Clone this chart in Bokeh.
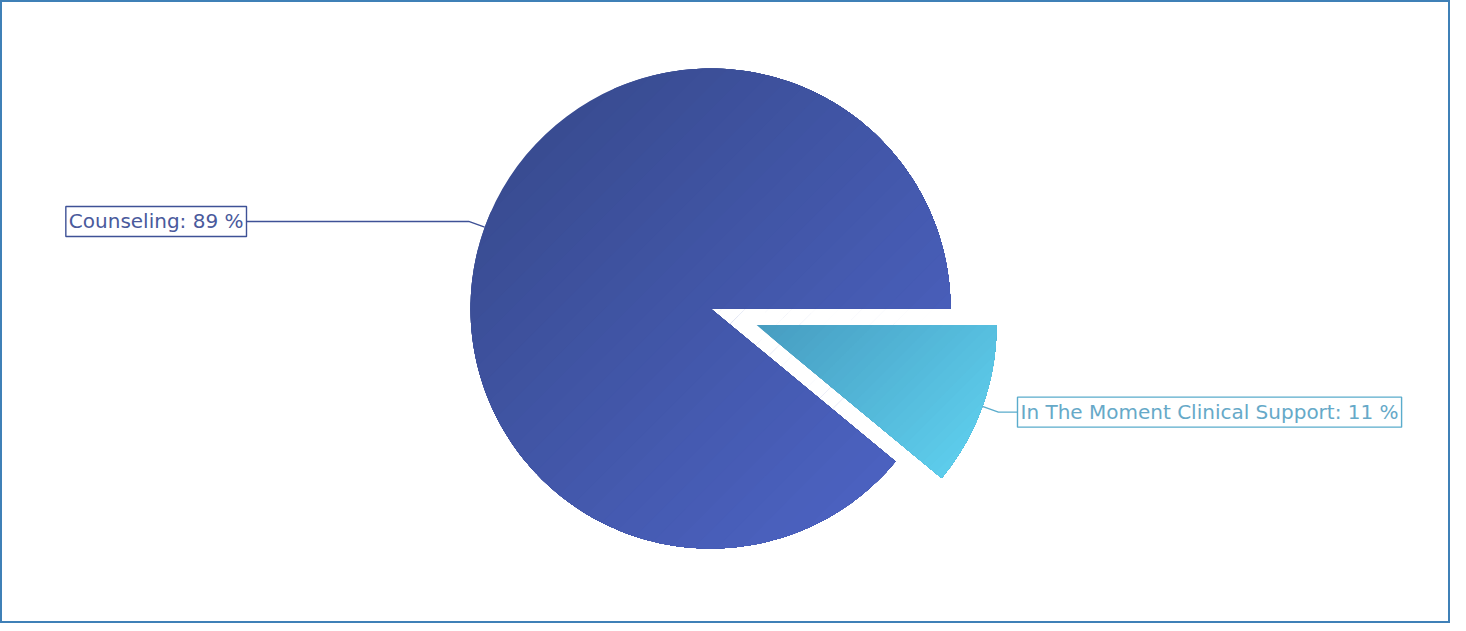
import numpy as np
from bokeh.plotting import figure
from bokeh.models import Range1d, Label
from bokeh.embed import file_html
from bokeh.resources import INLINE

# ---- data ----
categories = ["Counseling", "In The Moment Clinical Support"]
shares = [89, 11]
label_texts = ["Counseling: 89 %", "In The Moment Clinical Support: 11 %"]
explode = [0, 1]

# ---- styles ----
dark_cols = [(0x39, 0x4c, 0x92), (0x47, 0x9d, 0xc1)]
light_cols = [(0x4b, 0x61, 0xbf), (0x5d, 0xcc, 0xeb)]
text_cols = ["#4a5a9c", "#66a9c8"]
line_cols = ["#3e5196", "#5aaccc"]

W, H = 1450, 623
CX, CY = 710, -308       # pie centre (px, y negated)
R = 240
EXPLODE_OFF = 49

p = figure(width=W, height=H, output_backend="svg", toolbar_location=None,
           x_range=Range1d(0, W), y_range=Range1d(-H, 0),
           min_border=0)
p.axis.visible = False
p.grid.visible = False
p.outline_line_color = "#3f80b7"
p.outline_line_width = 3
p.background_fill_color = "white"
p.border_fill_color = "white"


def clip(poly, n, t):
    """Sutherland-Hodgman clip of polygon against half-plane n.p >= t"""
    out = []
    m = len(poly)
    for i in range(m):
        a = poly[i]
        b = poly[(i + 1) % m]
        da = n[0] * a[0] + n[1] * a[1] - t
        db = n[0] * b[0] + n[1] * b[1] - t
        if da >= 0:
            out.append(a)
        if (da >= 0) != (db >= 0):
            s = da / (da - db)
            out.append((a[0] + s * (b[0] - a[0]), a[1] + s * (b[1] - a[1])))
    return out


def hexcol(c):
    return "#%02x%02x%02x" % tuple(int(round(v)) for v in c)


total = float(sum(shares))
start = 0.0
gdir = (1 / np.sqrt(2), -1 / np.sqrt(2))
for i, v in enumerate(shares):
    frac = v / total
    a0 = start
    a1 = start + 2 * np.pi * frac
    mid = (a0 + a1) / 2
    off = EXPLODE_OFF * explode[i]
    cx = CX + off * np.cos(mid)
    cy = CY + off * np.sin(mid)
    dark, light = dark_cols[i], light_cols[i]
    p.wedge(x=[cx], y=[cy], radius=R, start_angle=[a0], end_angle=[a1],
            fill_color=hexcol(dark), line_color=None)
    # gradient overlay
    angs = np.linspace(a0, a1, 200)
    poly = [(cx, cy)] + [(cx + R * np.cos(a), cy + R * np.sin(a)) for a in angs]
    ds = [gdir[0] * q[0] + gdir[1] * q[1] for q in poly]
    dmin, dmax = min(ds), max(ds)
    N = 28
    xs, ys, cols = [], [], []
    for k in range(1, N + 1):
        t = dmin + (dmax - dmin) * k / (N + 1)
        cp = clip(poly, gdir, t)
        if len(cp) < 3:
            continue
        f = k / N
        c = tuple(dark[j] + (light[j] - dark[j]) * f for j in range(3))
        xs.append([q[0] for q in cp])
        ys.append([q[1] for q in cp])
        cols.append(hexcol(c))
    p.patches(xs=xs, ys=ys, fill_color=cols, line_color=None)

    # leader lines
    ex = cx + R * np.cos(mid)
    ey = cy + R * np.sin(mid)
    bx = cx + (R + 17) * np.cos(mid)
    by = cy + (R + 17) * np.sin(mid)
    right_side = np.cos(mid) > 0
    lx = 1017 if right_side else 246
    p.line(x=[ex, bx, lx], y=[ey, by, by], line_color=line_cols[i], line_width=1.4)
    lab = Label(x=lx, y=by,
                text=label_texts[i],
                text_align="left" if right_side else "right",
                text_baseline="middle",
                text_font="DejaVu Sans", text_font_size="20px",
                text_color=text_cols[i],
                border_line_color=line_cols[i], border_line_width=1.4,
                background_fill_color="white", padding=3)
    p.add_layout(lab)
    start = a1

open("out.html", "w").write(file_html(p, INLINE))
